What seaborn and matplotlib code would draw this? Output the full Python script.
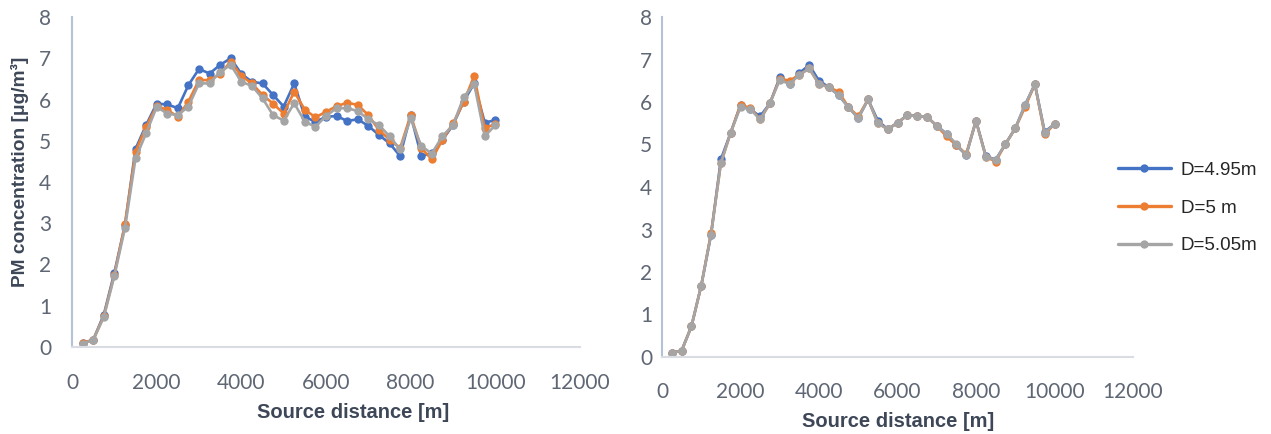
import pandas as pd
import seaborn as sns
import matplotlib.pyplot as plt

# Datos (distancia en m, concentracion en ug/m3)
distancia = [250, 500, 750, 1000, 1250, 1500, 1750, 2000, 2250, 2500,
             2750, 3000, 3250, 3500, 3750, 4000, 4250, 4500, 4750, 5000,
             5250, 5500, 5750, 6000, 6250, 6500, 6750, 7000, 7250, 7500,
             7750, 8000, 8250, 8500, 8750, 9000, 9250, 9500, 9750, 10000]

series = ['D=4.95m', 'D=5 m', 'D=5.05m']
colores = ['#4472C4', '#ED7D31', '#A5A5A5']

# Grafico izquierdo
izq_495 = [0.10, 0.17, 0.78, 1.80, 2.95, 4.80, 5.38, 5.90, 5.88, 5.79,
           6.35, 6.74, 6.63, 6.84, 7.00, 6.62, 6.43, 6.39, 6.11, 5.83,
           6.39, 5.58, 5.46, 5.58, 5.60, 5.48, 5.52, 5.36, 5.14, 4.94,
           4.63, 5.62, 4.63, 4.70, 5.02, 5.38, 5.95, 6.39, 5.44, 5.50]
izq_500 = [0.10, 0.17, 0.75, 1.75, 2.97, 4.73, 5.34, 5.84, 5.75, 5.58,
           5.95, 6.47, 6.47, 6.62, 6.92, 6.57, 6.39, 6.11, 5.90, 5.66,
           6.19, 5.75, 5.57, 5.70, 5.84, 5.92, 5.87, 5.62, 5.26, 5.03,
           4.82, 5.62, 4.82, 4.55, 5.02, 5.42, 5.93, 6.57, 5.30, 5.41]
izq_505 = [0.08, 0.17, 0.72, 1.72, 2.88, 4.57, 5.18, 5.82, 5.66, 5.62,
           5.83, 6.39, 6.39, 6.67, 6.84, 6.43, 6.33, 6.03, 5.62, 5.49,
           5.91, 5.46, 5.34, 5.60, 5.79, 5.79, 5.72, 5.52, 5.38, 5.11,
           4.79, 5.54, 4.87, 4.69, 5.11, 5.38, 6.05, 6.38, 5.11, 5.38]

# Grafico derecho
der_495 = [0.10, 0.15, 0.72, 1.68, 2.88, 4.65, 5.28, 5.93, 5.83, 5.66,
           5.97, 6.58, 6.42, 6.68, 6.87, 6.50, 6.35, 6.16, 5.88, 5.62,
           6.06, 5.56, 5.36, 5.51, 5.69, 5.67, 5.65, 5.44, 5.25, 4.98,
           4.75, 5.56, 4.73, 4.64, 5.01, 5.38, 5.93, 6.42, 5.30, 5.48]
der_500 = [0.10, 0.15, 0.72, 1.68, 2.92, 4.56, 5.28, 5.93, 5.86, 5.59,
           5.97, 6.55, 6.50, 6.64, 6.79, 6.42, 6.35, 6.24, 5.88, 5.66,
           6.06, 5.50, 5.36, 5.51, 5.69, 5.67, 5.65, 5.44, 5.19, 4.98,
           4.78, 5.56, 4.71, 4.60, 5.01, 5.38, 5.88, 6.42, 5.24, 5.48]
der_505 = [0.10, 0.15, 0.72, 1.68, 2.88, 4.56, 5.28, 5.88, 5.83, 5.59,
           5.97, 6.52, 6.42, 6.64, 6.79, 6.42, 6.35, 6.16, 5.88, 5.62,
           6.06, 5.50, 5.36, 5.51, 5.69, 5.67, 5.65, 5.44, 5.25, 5.01,
           4.75, 5.56, 4.71, 4.64, 5.01, 5.38, 5.93, 6.42, 5.28, 5.48]


def tabla(v1, v2, v3):
    partes = []
    for nombre, valores in zip(series, [v1, v2, v3]):
        partes.append(pd.DataFrame({'dist': distancia, 'pm': valores, 'serie': nombre}))
    return pd.concat(partes, ignore_index=True)


sns.set_style('white')
plt.rcParams['font.family'] = ['Lato', 'DejaVu Sans']

color_tick = '#5f6774'
color_titulo = '#3d4757'

fig = plt.figure(figsize=(12.71, 4.34), dpi=100)
ax1 = fig.add_axes([72 / 1271, 87 / 434, 508 / 1271, 330 / 434])
ax2 = fig.add_axes([662 / 1271, 77 / 434, 471 / 1271, 340 / 434])

for ax, datos in [(ax1, tabla(izq_495, izq_500, izq_505)),
                  (ax2, tabla(der_495, der_500, der_505))]:
    sns.lineplot(data=datos, x='dist', y='pm', hue='serie', hue_order=series,
                 palette=colores, marker='o', markersize=6, markeredgewidth=0,
                 linewidth=1.9, ax=ax, legend=(ax is ax2))
    ax.set_xlim(0, 12000)
    ax.set_ylim(0, 8)
    ax.set_xticks(range(0, 12001, 2000))
    ax.set_yticks(range(0, 9))
    for s in ['top', 'right']:
        ax.spines[s].set_visible(False)
    ax.spines['left'].set_color('#b4c2d6')
    ax.spines['bottom'].set_color('#d9dde3')
    ax.spines['left'].set_linewidth(1.5)
    ax.spines['bottom'].set_linewidth(1.5)
    ax.tick_params(length=0, labelsize=15, labelcolor=color_tick)
    ax.set_xlabel('Source distance [m]', fontsize=14.5, fontweight='bold',
                  color=color_titulo, family=['Liberation Sans Narrow', 'Liberation Sans'])
    ax.xaxis.label.set_va('center')

ax1.tick_params(axis='x', pad=19)
ax1.tick_params(axis='y', pad=15)
ax2.tick_params(axis='x', pad=18)
ax2.tick_params(axis='y', pad=7)

ax1.xaxis.set_label_coords(0.553, -0.20)
ax2.xaxis.set_label_coords(0.501, -0.191)

ax1.set_ylabel('PM concentration [μg/m³]', fontsize=13.8, fontweight='bold',
               color=color_titulo, family=['Liberation Sans Narrow', 'Liberation Sans'])
ax1.yaxis.label.set_va('center')
ax1.yaxis.set_label_coords(-0.102, 0.53)
ax2.set_ylabel('')

handles, labels = ax2.get_legend_handles_labels()
ax2.get_legend().remove()
for h in handles:
    h.set_linewidth(2.4)
fig.legend(handles, labels, loc='center left', bbox_to_anchor=(1118 / 1271, 1 - 208 / 434),
           frameon=False, borderpad=0, borderaxespad=0, handlelength=2.8,
           handletextpad=0.55, labelspacing=1.1,
           prop={'family': 'Liberation Sans', 'size': 13.5}, labelcolor='#262626')

fig.savefig('out.png', dpi=100)
